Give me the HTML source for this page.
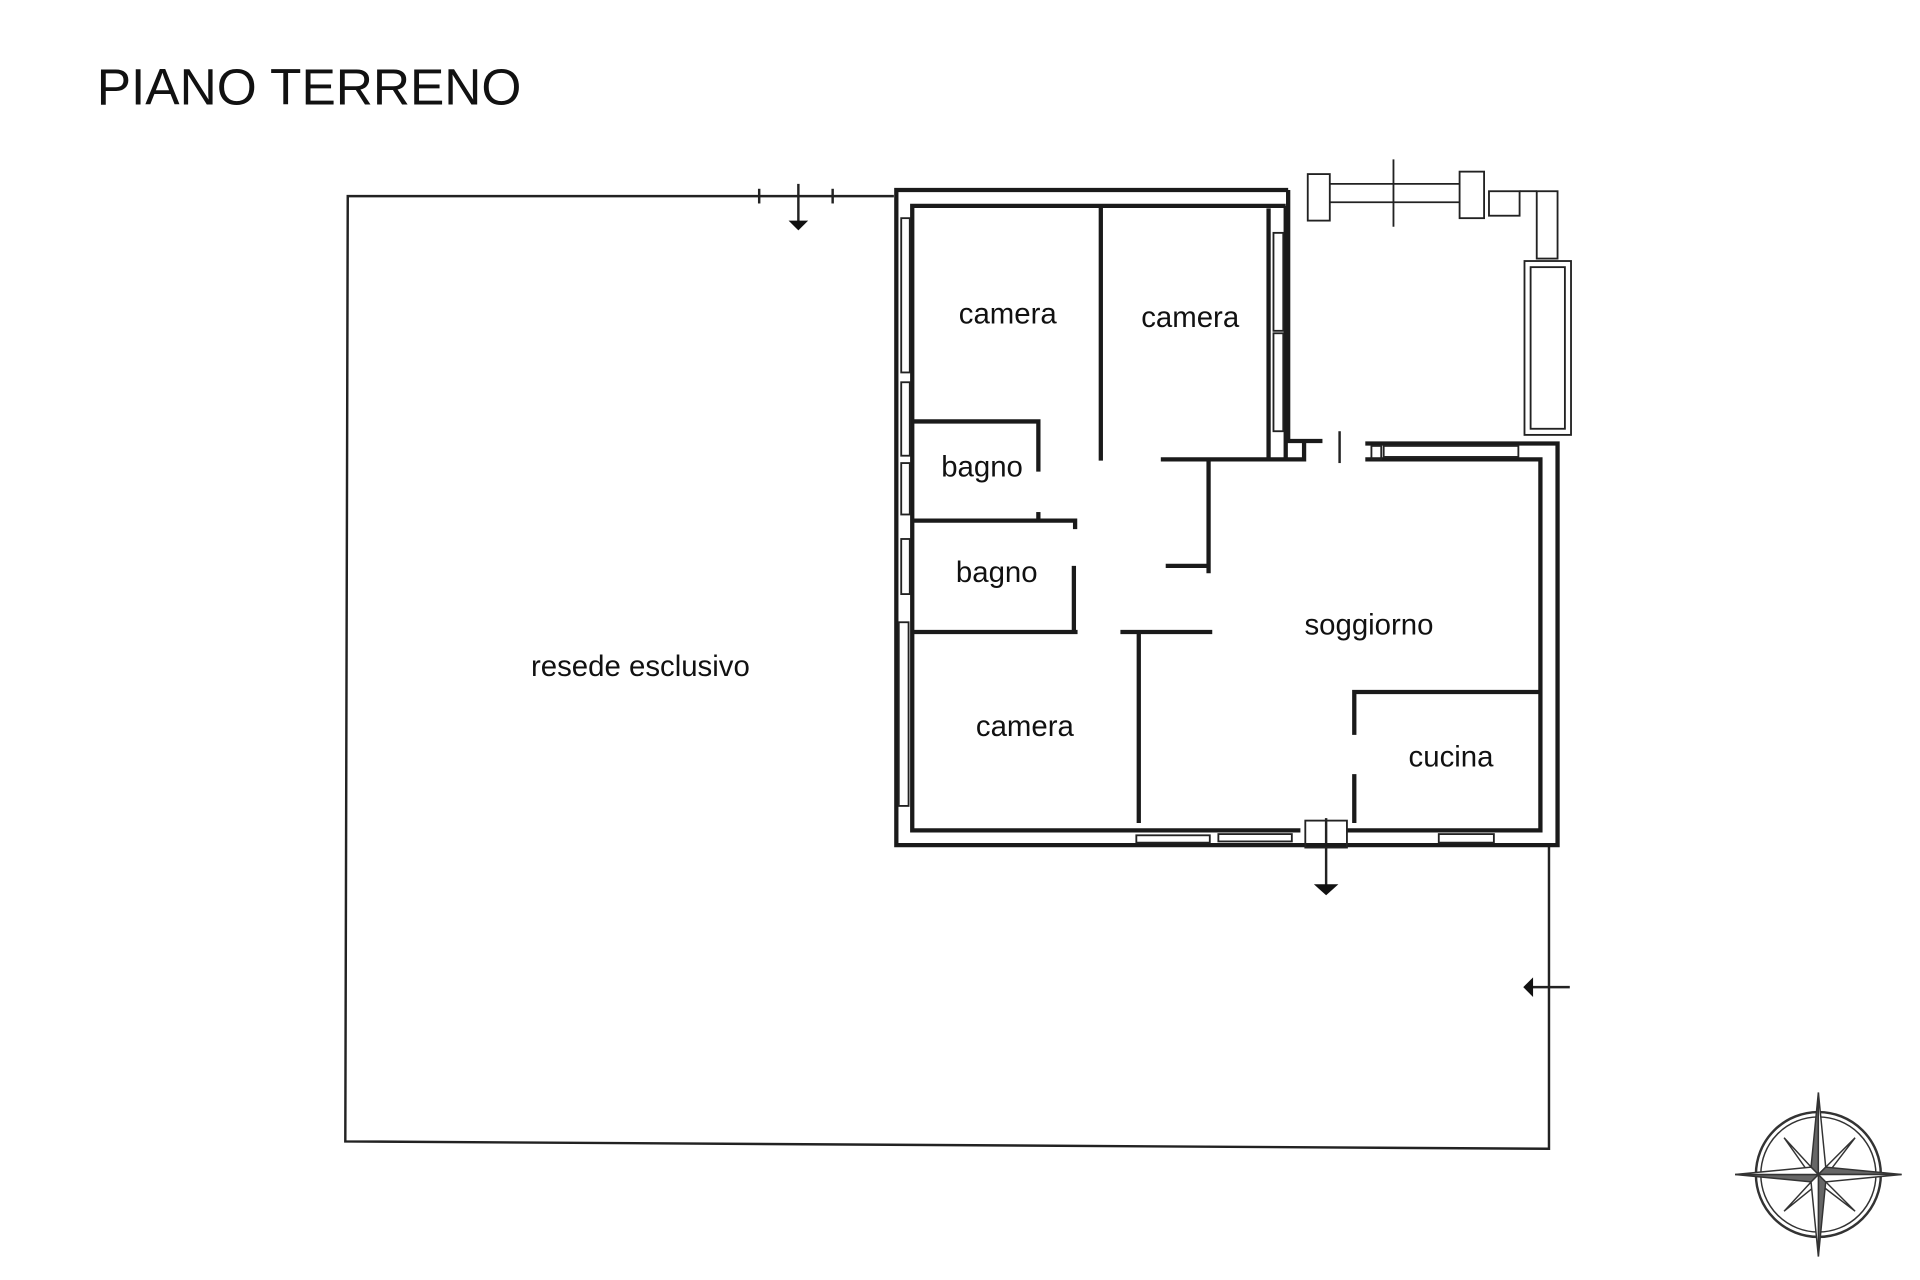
<!DOCTYPE html>
<html><head><meta charset="utf-8"><style>html,body{margin:0;padding:0;background:#fff;width:1920px;height:1280px;overflow:hidden}svg{display:block}</style></head>
<body>
<svg width="1920" height="1280" viewBox="0 0 1568 1045" xmlns="http://www.w3.org/2000/svg" font-family="'Liberation Sans', 'DejaVu Sans', sans-serif">
<rect width="1568" height="1045" fill="#fff"/>
<text x="79" y="85" font-size="42" fill="#111">PIANO TERRENO</text>
<!-- lot boundary -->
<g stroke="#222" stroke-width="2" fill="none">
<polyline points="730,160 284,160 282,932 1265,938 1265,690"/>
<line x1="620" y1="154" x2="620" y2="166"/><line x1="680" y1="154" x2="680" y2="166"/>
<line x1="652" y1="150" x2="652" y2="185"/>
<line x1="1083" y1="668" x2="1083" y2="728"/>
<line x1="1248" y1="806" x2="1282" y2="806"/>
<line x1="1094" y1="352" x2="1094" y2="378"/>
</g>
<polygon points="644,180 660,180 652,188" fill="#111"/>
<polygon points="1073,722 1093,722 1083,731" fill="#111"/>
<polygon points="1244,806 1252,798 1252,814" fill="#111"/>
<!-- building outer walls -->
<g stroke="#1a1a1a" stroke-width="3.5" fill="none">
<polyline points="1052,155 732,155 732,690 1272,690 1272,362 1115,362"/>
<polyline points="1050,168 745,168 745,678 1062,678"/>
<polyline points="1100,678 1258,678 1258,375 1115,375"/>
<polyline points="1050,168 1050,375 1065,375 1065,360"/>
<polyline points="1052,155 1052,360 1080,360"/>
<line x1="1036" y1="170" x2="1036" y2="375"/>
<!-- interior -->
<line x1="899" y1="168" x2="899" y2="376"/>
<polyline points="745,344 848,344 848,385"/>
<polyline points="948,375 1050,375"/>
<polyline points="987,375 987,468"/>
<line x1="952" y1="462" x2="987" y2="462"/>
<polyline points="745,425 878,425 878,432"/>
<line x1="848" y1="418" x2="848" y2="425"/>
<polyline points="877,462 877,517"/>
<line x1="745" y1="516" x2="880" y2="516"/>
<line x1="915" y1="516" x2="990" y2="516"/>
<line x1="930" y1="516" x2="930" y2="672"/>
<polyline points="1106,600 1106,565 1258,565"/>
<line x1="1106" y1="632" x2="1106" y2="672"/>
</g>
<!-- window details -->
<g stroke="#222" stroke-width="1.5" fill="none">
<rect x="736" y="178" width="7" height="126"/>
<rect x="736" y="312" width="7" height="60"/>
<rect x="736" y="378" width="7" height="42"/>
<rect x="736" y="440" width="7" height="45"/>
<rect x="734" y="508" width="8" height="150"/>
<rect x="1040" y="190" width="8" height="80"/>
<rect x="1040" y="272" width="8" height="80"/>
<rect x="928" y="682" width="60" height="6"/>
<rect x="995" y="681" width="60" height="6"/>
<rect x="1175" y="681" width="45" height="7"/>
<rect x="1130" y="364" width="110" height="9"/>
<rect x="1120" y="364" width="8" height="11"/>
<!-- annex -->
<rect x="1068" y="142" width="18" height="38"/>
<rect x="1192" y="140" width="20" height="38"/>
<rect x="1216" y="156" width="25" height="20"/>
<rect x="1255" y="156" width="17" height="55"/>
<rect x="1245" y="213" width="38" height="142"/>
<rect x="1250" y="218" width="28" height="132"/>
<line x1="1086" y1="150" x2="1192" y2="150"/>
<line x1="1086" y1="165" x2="1192" y2="165"/>
<line x1="1138" y1="130" x2="1138" y2="185"/>
<line x1="1241" y1="156" x2="1255" y2="156"/>
<rect x="1066" y="670" width="34" height="22"/>
</g>
<!-- labels -->
<g font-size="24" fill="#111" text-anchor="middle">
<text x="823" y="264">camera</text>
<text x="972" y="267">camera</text>
<text x="802" y="389">bagno</text>
<text x="814" y="475">bagno</text>
<text x="1118" y="518">soggiorno</text>
<text x="837" y="601">camera</text>
<text x="1185" y="626">cucina</text>
<text x="523" y="552">resede esclusivo</text>
</g>
<!-- compass -->
<g transform="translate(1485,959)" stroke="#333" fill="none">
<circle r="51" stroke-width="2"/>
<circle r="47" stroke-width="1.2"/>
<g stroke-width="1.2" fill="#fff">
<polygon points="0,0 -4,-4 -28,-30 -4,4"/>
<polygon points="0,0 4,-4 30,-30 4,4"/>
<polygon points="0,0 -4,4 -28,30 4,4"/>
<polygon points="0,0 4,4 30,30 -4,4"/>
</g>
<g stroke-width="1.2">
<polygon points="0,-67 -6,-6 0,0" fill="#666"/><polygon points="0,-67 6,-6 0,0" fill="#fff"/>
<polygon points="0,67 6,6 0,0" fill="#666"/><polygon points="0,67 -6,6 0,0" fill="#fff"/>
<polygon points="-68,0 -6,6 0,0" fill="#666"/><polygon points="-68,0 -6,-6 0,0" fill="#fff"/>
<polygon points="68,0 6,-6 0,0" fill="#666"/><polygon points="68,0 6,6 0,0" fill="#fff"/>
</g>
</g>
</svg>
</body></html>
